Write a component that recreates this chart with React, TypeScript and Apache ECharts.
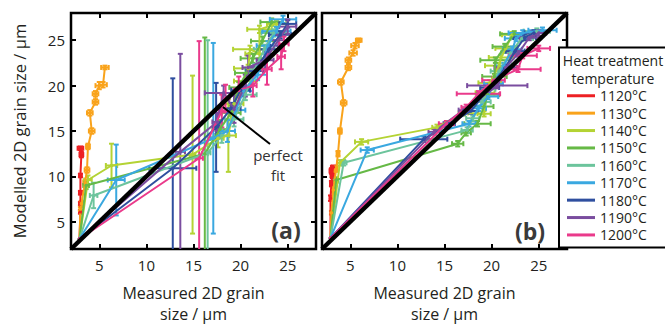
import React, { useEffect, useRef } from "react";
import * as echarts from "echarts";

const names = ["1120°C", "1130°C", "1140°C", "1150°C", "1160°C", "1170°C", "1180°C", "1190°C", "1200°C"];
const colors = ["#ed2024", "#f9a31b", "#b4d334", "#66b946", "#6cc49c", "#3aa8e0", "#2f4f9f", "#7a4d9f", "#ea3a8b"];
const tickValues = [5, 10, 15, 20, 25];
const axisMin = 2;
const axisMax = 28;
const diagonal = [[2, 2], [28, 28]];

// [x, y, xErr, yErr] — panel (a)
const a1120 = [[2.9, 3.1, 0, 0], [3.0, 6.1, 0.15, 0.2], [3.0, 7.0, 0.15, 0.2], [3.0, 8.2, 0.15, 0.2], [3.0, 10.1, 0.15, 0.2], [3.1, 12.4, 0.2, 0.3], [3.0, 13.1, 0.3, 0.2]];
const a1130 = [[2.9, 3.1, 0, 0], [3.0, 6.4, 0.1, 0.2], [3.1, 7.0, 0.15, 0.3], [3.5, 9.3, 0.2, 0.3], [3.7, 10.7, 0.25, 0.3], [3.8, 13.3, 0.2, 0.3], [4.2, 15.0, 0.3, 0.3], [4.0, 17.0, 0.3, 0.3], [4.6, 18.2, 0.3, 0.3], [4.6, 19.1, 0.3, 0.3], [5.0, 20.0, 0.4, 0.4], [5.4, 20.1, 0.4, 0.3], [5.6, 22.0, 0.4, 0.2]];
const a1140 = [[2.9, 3.1, 0, 0], [3.8, 9.6, 0.4, 0.5], [6.3, 11.2, 0.6, 2.4], [14.9, 12.4, 0.3, 8.7], [17.6, 14.2, 0.6, 1.0], [18.7, 14.5, 0.8, 4.0], [19.3, 18.0, 1.0, 1.0], [20.5, 20.5, 1.2, 0.8], [20.8, 21.9, 1.5, 0.4], [21.0, 24.0, 1.8, 0.4], [22.0, 23.5, 1.5, 0.5], [22.0, 26.2, 1.3, 0.4], [23.8, 26.8, 1.0, 0.4]];
const a1150 = [[2.9, 3.1, 0, 0], [3.6, 9.0, 0.3, 0.4], [16.2, 12.5, 0.3, 12.8], [17.8, 15.2, 0.8, 1.0], [19.0, 17.0, 1.0, 0.8], [19.8, 19.8, 1.0, 0.6], [20.6, 21.4, 1.2, 0.5], [21.3, 23.0, 1.3, 0.5], [22.3, 24.9, 1.2, 0.5], [23.3, 27.0, 1.2, 0.4]];
const a1160 = [[2.9, 3.1, 0, 0], [4.4, 7.9, 0.4, 1.4], [16.5, 12.6, 0.3, 12.4], [18.0, 14.5, 0.8, 0.8], [19.3, 16.3, 1.0, 0.8], [20.5, 19.0, 1.2, 0.6], [21.5, 21.8, 1.0, 0.6], [22.5, 24.0, 1.1, 0.5], [23.5, 25.8, 1.3, 0.4]];
const a1170 = [[2.9, 3.1, 0, 0], [6.8, 9.6, 0.9, 3.9], [17.1, 14.2, 0.3, 10.5], [18.6, 15.0, 0.8, 1.2], [19.5, 17.3, 1.0, 0.8], [20.3, 19.4, 1.0, 0.6], [21.8, 21.2, 1.0, 0.6], [22.9, 24.4, 1.2, 0.5], [23.8, 26.0, 1.5, 0.5], [24.5, 27.3, 1.4, 0.4]];
const a1180 = [[2.9, 3.1, 0, 0], [12.8, 10.9, 2.5, 9.9], [17.4, 15.4, 0.3, 4.9], [19.0, 17.5, 1.0, 0.6], [20.0, 19.5, 1.0, 0.6], [21.5, 21.6, 0.9, 0.5], [23.0, 24.0, 1.0, 0.5], [24.2, 25.6, 1.2, 0.4], [25.0, 26.8, 0.9, 0.4]];
const a1190 = [[2.9, 3.1, 0, 0], [13.6, 12.7, 0.5, 10.8], [17.5, 16.0, 0.5, 1.0], [18.2, 19.2, 2.0, 0.8], [19.3, 17.4, 0.4, 1.5], [20.5, 20.0, 0.6, 1.2], [20.8, 22.0, 0.6, 1.3], [22.6, 22.8, 0.9, 1.0], [24.0, 25.0, 1.0, 0.6], [25.0, 26.5, 0.9, 0.8]];
const a1200 = [[2.9, 3.1, 0, 0], [15.6, 12.0, 0.4, 12.9], [18.0, 17.2, 0.3, 1.8], [18.4, 18.6, 0.4, 1.5], [19.8, 19.5, 0.5, 1.5], [21.3, 20.0, 0.4, 1.2], [22.8, 21.8, 0.5, 1.7], [24.3, 23.2, 0.4, 1.4], [24.6, 24.6, 0.5, 0.8]];

// [x, y, xErr, yErr] — panel (b)
const b1120 = [[2.9, 3.2, 0, 0], [2.9, 7.6, 0.1, 0.3], [3.0, 9.2, 0.15, 0.3], [3.1, 10.1, 0.2, 0.3], [3.0, 10.6, 0.2, 0.3], [3.2, 11.0, 0.25, 0.2]];
const b1130 = [[2.9, 3.2, 0, 0], [3.0, 6.0, 0.1, 0.2], [3.2, 8.5, 0.1, 0.3], [3.5, 10.8, 0.15, 0.3], [3.7, 12.5, 0.15, 0.3], [3.9, 15.0, 0.2, 0.3], [4.3, 18.1, 0.3, 0.3], [4.0, 20.4, 0.3, 0.3], [4.8, 22.0, 0.3, 0.3], [4.8, 22.8, 0.3, 0.3], [5.3, 23.6, 0.4, 0.3], [5.5, 24.4, 0.4, 0.3], [5.9, 25.0, 0.3, 0.2]];
const b1140 = [[2.9, 3.2, 0, 0], [3.9, 11.5, 0.3, 0.3], [6.2, 13.8, 0.7, 0.3], [14.2, 15.4, 0.5, 0.3], [17.0, 17.0, 0.5, 0.3], [19.2, 16.9, 0.7, 0.3], [19.3, 19.2, 1.0, 0.3], [19.8, 20.3, 1.2, 0.3], [20.8, 22.2, 1.5, 0.3], [21.0, 23.1, 1.3, 0.3], [21.5, 24.1, 1.1, 0.3], [22.2, 25.6, 1.1, 0.3]];
const b1150 = [[2.9, 3.2, 0, 0], [3.5, 9.6, 0.2, 0.3], [16.4, 13.6, 0.6, 0.3], [17.3, 14.8, 0.5, 0.3], [18.5, 15.8, 1.4, 0.3], [19.2, 17.7, 1.0, 0.3], [19.6, 19.0, 1.2, 0.3], [20.3, 21.0, 1.3, 0.3], [20.4, 22.8, 1.6, 0.3], [21.4, 24.3, 1.3, 0.3], [22.4, 25.7, 1.5, 0.3]];
const b1160 = [[2.9, 3.2, 0, 0], [4.3, 11.5, 0.3, 0.3], [17.4, 15.1, 0.6, 0.3], [18.0, 16.4, 0.7, 0.3], [19.0, 18.2, 0.9, 0.3], [19.6, 19.6, 0.8, 0.3], [20.8, 21.6, 0.9, 0.3], [22.0, 23.6, 1.0, 0.3], [23.2, 25.2, 1.2, 0.3], [24.8, 26.0, 1.4, 0.3]];
const b1170 = [[2.9, 3.2, 0, 0], [6.8, 12.9, 0.7, 0.3], [17.6, 15.8, 0.7, 0.3], [18.6, 17.5, 0.8, 0.3], [19.6, 18.8, 1.1, 0.3], [20.2, 20.2, 1.0, 0.3], [21.3, 22.2, 0.9, 0.3], [22.2, 24.0, 1.0, 0.3], [22.6, 25.2, 1.2, 0.3], [23.3, 25.8, 1.5, 0.3], [25.4, 26.1, 1.5, 0.3]];
const b1180 = [[2.9, 3.2, 0, 0], [12.8, 14.1, 2.5, 0.3], [15.5, 15.8, 0.6, 0.3], [17.8, 17.2, 0.7, 0.3], [19.8, 19.8, 1.0, 0.3], [21.4, 21.9, 1.0, 0.3], [22.5, 23.8, 1.0, 0.3], [23.5, 25.3, 1.2, 0.3], [24.5, 25.8, 1.0, 0.3]];
const b1190 = [[2.9, 3.2, 0, 0], [13.9, 14.9, 0.6, 0.3], [17.0, 17.3, 0.5, 0.3], [20.6, 20.0, 3.2, 0.3], [21.5, 22.0, 1.2, 0.3], [22.8, 23.5, 0.8, 0.3], [24.0, 25.3, 1.0, 0.3], [25.0, 25.8, 0.8, 0.3]];
const b1200 = [[2.9, 3.2, 0, 0], [15.2, 15.8, 0.8, 0.3], [17.3, 17.6, 0.5, 0.3], [18.6, 19.1, 2.3, 0.3], [20.2, 20.6, 1.2, 0.3], [22.8, 21.8, 2.4, 0.3], [23.3, 23.3, 1.5, 0.3], [25.0, 24.1, 1.2, 0.3]];

const panelA = [a1120, a1130, a1140, a1150, a1160, a1170, a1180, a1190, a1200];
const panelB = [b1120, b1130, b1140, b1150, b1160, b1170, b1180, b1190, b1200];

const FONT = "Open Sans";
const TXT = "#231f20";

function renderErr(_params: any, api: any) {
  const x = api.value(0), y = api.value(1), xe = api.value(2), ye = api.value(3);
  const stroke = api.visual("color");
  const st = { stroke, lineWidth: 2 };
  const cap = 2.5;
  const kids: any[] = [];
  const seg = (x1: number, y1: number, x2: number, y2: number) =>
    kids.push({ type: "line", shape: { x1, y1, x2, y2 }, style: st });
  if (xe > 0) {
    const a = api.coord([x - xe, y]);
    const b = api.coord([x + xe, y]);
    seg(a[0], a[1], b[0], b[1]);
    seg(a[0], a[1] - cap, a[0], a[1] + cap);
    seg(b[0], b[1] - cap, b[0], b[1] + cap);
  }
  if (ye > 0) {
    const a = api.coord([x, y - ye]);
    const b = api.coord([x, y + ye]);
    seg(a[0], a[1], b[0], b[1]);
    seg(a[0] - cap, a[1], a[0] + cap, a[1]);
    seg(b[0] - cap, b[1], b[0] + cap, b[1]);
  }
  return { type: "group", children: kids };
}

function panelSeries(data: number[][][], axis: number) {
  const out: any[] = [];
  data.forEach((pts, i) => {
    out.push({
      type: "custom", name: names[i], xAxisIndex: axis, yAxisIndex: axis,
      renderItem: renderErr, data: pts, encode: { x: 0, y: 1 },
      itemStyle: { color: colors[i] }, clip: true, z: 2,
    });
    out.push({
      type: "line", name: names[i], xAxisIndex: axis, yAxisIndex: axis,
      data: pts.map((p) => [p[0], p[1]]),
      symbol: "circle", symbolSize: 3.5, showSymbol: true,
      lineStyle: { color: colors[i], width: 2 },
      itemStyle: { color: colors[i] }, z: 3,
    });
  });
  out.push({
    type: "line", xAxisIndex: axis, yAxisIndex: axis, data: diagonal,
    symbol: "none", lineStyle: { color: "#000", width: 4.5 }, z: 5, silent: true,
  });
  return out;
}

function xAx(grid: number, pos: "bottom" | "top") {
  const bottom = pos === "bottom";
  return {
    type: "value", gridIndex: grid, position: pos, min: axisMin, max: axisMax,
    axisLine: { show: false }, splitLine: { show: false },
    axisTick: { show: true, inside: true, length: 5, lineStyle: { color: "#000", width: 2 }, customValues: tickValues },
    axisLabel: bottom
      ? { show: true, customValues: tickValues, fontSize: 15, fontFamily: FONT, color: TXT, margin: 8 }
      : { show: false },
    name: bottom ? "Measured 2D grain\nsize / μm" : "",
    nameLocation: "middle", nameGap: 34,
    nameTextStyle: { fontSize: 16, fontFamily: FONT, color: TXT, lineHeight: 20.5 },
  };
}

function yAx(grid: number, pos: "left" | "right", labels: boolean) {
  return {
    type: "value", gridIndex: grid, position: pos, min: axisMin, max: axisMax,
    axisLine: { show: false }, splitLine: { show: false },
    axisTick: { show: true, inside: true, length: 5, lineStyle: { color: "#000", width: 2 }, customValues: tickValues },
    axisLabel: labels
      ? { show: true, customValues: tickValues, fontSize: 15, fontFamily: FONT, color: TXT, margin: 6 }
      : { show: false },
    name: labels ? "Modelled 2D grain size / μm" : "",
    nameLocation: "middle", nameGap: 43,
    nameTextStyle: { fontSize: 16.5, fontFamily: FONT, color: TXT },
  };
}

export default function App() {
  const ref = useRef<HTMLDivElement>(null);
  useEffect(() => {
    if (!ref.current) return;
    const chart = echarts.init(ref.current, null, { renderer: "svg" });
    const option: any = {
      animation: false,
      backgroundColor: "#fff",
      grid: [
        { left: 71, top: 13, width: 245, height: 245, show: true, borderColor: "#000", borderWidth: 2.5, backgroundColor: "transparent" },
        { left: 322, top: 13, width: 245, height: 245, show: true, borderColor: "#000", borderWidth: 2.5, backgroundColor: "transparent" },
      ],
      xAxis: [xAx(0, "bottom"), xAx(0, "top"), xAx(1, "bottom"), xAx(1, "top")],
      yAxis: [yAx(0, "left", true), yAx(0, "right", false), yAx(1, "left", false), yAx(1, "right", false)],
      legend: {
        data: names.map((n) => ({ name: n, icon: "rect" })),
        orient: "vertical", left: 567, top: 88.5, padding: 0,
        itemWidth: 28, itemHeight: 3, itemGap: 2.9,
        textStyle: { fontSize: 14, fontFamily: FONT, color: TXT, lineHeight: 14.5 },
        selectedMode: false, z: 20,
      },
      graphic: [
        { type: "rect", z: 15, shape: { x: 559, y: 47.5, width: 120, height: 200 }, style: { fill: "#fff", stroke: "#000", lineWidth: 2 } },
        { type: "text", z: 16, x: 613, y: 60, style: { text: "Heat treatment", fontSize: 14, fontFamily: FONT, fill: TXT, align: "center", verticalAlign: "middle" } },
        { type: "text", z: 16, x: 613, y: 78, style: { text: "temperature", fontSize: 14, fontFamily: FONT, fill: TXT, align: "center", verticalAlign: "middle" } },
        { type: "line", z: 16, shape: { x1: 223, y1: 107, x2: 270, y2: 144 }, style: { stroke: "#000", lineWidth: 2 } },
        { type: "text", z: 16, x: 278, y: 155, style: { text: "perfect", fontSize: 15, fontFamily: FONT, fill: "#333", align: "center", verticalAlign: "middle" } },
        { type: "text", z: 16, x: 278, y: 175, style: { text: "fit", fontSize: 15, fontFamily: FONT, fill: "#333", align: "center", verticalAlign: "middle" } },
        { type: "text", z: 16, x: 286, y: 230, style: { text: "(a)", fontSize: 23, fontWeight: "bold", fontFamily: FONT, fill: "#3a3a3a", align: "center", verticalAlign: "middle" } },
        { type: "text", z: 16, x: 530, y: 231, style: { text: "(b)", fontSize: 23, fontWeight: "bold", fontFamily: FONT, fill: "#3a3a3a", align: "center", verticalAlign: "middle" } },
      ],
      series: [...panelSeries(panelA, 0), ...panelSeries(panelB, 2)],
    };
    chart.setOption(option);
    return () => chart.dispose();
  }, []);
  return <div ref={ref} style={{ position: "fixed", left: 0, top: 0, width: 665, height: 329 }} />;
}
